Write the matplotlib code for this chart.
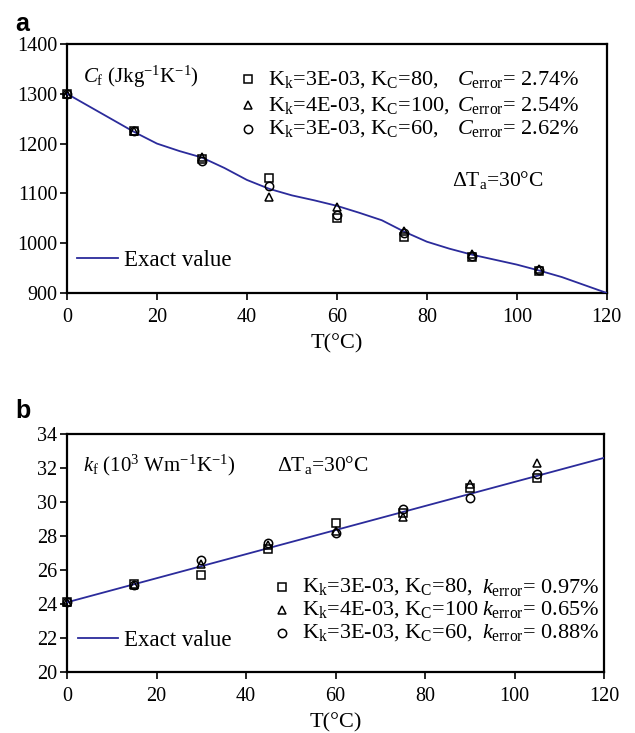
import matplotlib
matplotlib.use("Agg")
import matplotlib.pyplot as plt

plt.rcParams['font.family'] = ['Liberation Serif', 'DejaVu Serif']
plt.rcParams['mathtext.fontset'] = 'custom'
plt.rcParams['mathtext.rm'] = 'Liberation Serif'
plt.rcParams['mathtext.it'] = 'Liberation Serif:italic'
plt.rcParams['mathtext.bf'] = 'Liberation Serif:bold'

# ---- panel a: specific heat C_f ----
t_exact_c = [0, 15, 20, 25, 30, 35, 40, 45, 50, 55, 60, 65, 70, 75, 80, 85, 90, 95, 100, 105, 110, 115, 120]
c_exact = [1300, 1223, 1200, 1185, 1172, 1151, 1127, 1109, 1096, 1086, 1075, 1061, 1046, 1023, 1003, 989, 977, 967, 957, 945, 932, 916, 900]

t_pts = [0, 15, 30, 45, 60, 75, 90, 105]
c_sq = [1300, 1226, 1170, 1130, 1050, 1012, 972, 945]
c_tri = [1300, 1225, 1174, 1093, 1073, 1025, 978, 949]
c_circ = [1300, 1225, 1165, 1115, 1057, 1021, 975, 947]

c_labels = ["K$_\\mathrm{k}$=3E-03, K$_\\mathrm{C}$=80,",
            "K$_\\mathrm{k}$=4E-03, K$_\\mathrm{C}$=100,",
            "K$_\\mathrm{k}$=3E-03, K$_\\mathrm{C}$=60,"]
c_errors = ["$C_\\mathrm{error}$= 2.74%", "$C_\\mathrm{error}$= 2.54%", "$C_\\mathrm{error}$= 2.62%"]

# ---- panel b: conductivity k_f ----
t_exact_k = [0, 120]
k_exact = [24.1, 32.6]

k_sq = [24.1, 25.2, 25.7, 27.25, 28.75, 29.35, 30.8, 31.4]
k_tri = [24.1, 25.1, 26.35, 27.45, 28.3, 29.1, 31.05, 32.3]
k_circ = [24.1, 25.1, 26.6, 27.57, 28.15, 29.6, 30.25, 31.65]

k_labels = ["K$_\\mathrm{k}$=3E-03, K$_\\mathrm{C}$=80,",
            "K$_\\mathrm{k}$=4E-03, K$_\\mathrm{C}$=100",
            "K$_\\mathrm{k}$=3E-03, K$_\\mathrm{C}$=60,"]
k_errors = ["$k_\\mathrm{error}$= 0.97%", "$k_\\mathrm{error}$= 0.65%", "$k_\\mathrm{error}$= 0.88%"]

x_ticks = [0, 20, 40, 60, 80, 100, 120]

LINE = '#2b2b9b'
FS_TICK = 14.5
FS_TXT = 16
marker_kw = dict(linestyle='none', markerfacecolor='none', markeredgecolor='black',
                 markeredgewidth=1.1, markersize=6, clip_on=False, zorder=4)
markers = ['s', '^', 'o']

fig = plt.figure(figsize=(6.35, 7.33), dpi=100)
ax_a = fig.add_axes([0.1055, 0.6003, 0.850, 0.3397])
ax_b = fig.add_axes([0.1055, 0.0832, 0.846, 0.3247])


def style_axes(ax, ylim, yticks):
    ax.set_xlim(0, 120)
    ax.set_ylim(*ylim)
    ax.set_xticks(x_ticks)
    ax.set_yticks(yticks)
    for s in ax.spines.values():
        s.set_linewidth(1.6)
    ax.tick_params(direction='out', length=5, width=1.2, labelsize=FS_TICK, top=False, right=False)
    ax.tick_params(axis='x', pad=6)
    ax.tick_params(axis='y', pad=2)
    ax.set_xlabel("T(°C)", fontsize=FS_TXT, labelpad=5)


# panel a
ax_a.plot(t_exact_c, c_exact, color=LINE, lw=1.3, zorder=3)
for m, vals in zip(markers, [c_sq, c_tri, c_circ]):
    ax_a.plot(t_pts, vals, marker=m, **marker_kw)
style_axes(ax_a, (900, 1400), range(900, 1401, 100))

ax_a.text(0.03, 0.867, "$C_\\mathrm{f}$ (Jkg$^{\\mathrm{-1}}$K$^{\\mathrm{-1}}$)", transform=ax_a.transAxes,
          fontsize=15, va='center', ha='left')
rows_a = [0.859, 0.753, 0.659]
for m, y, lab, err in zip(markers, rows_a, c_labels, c_errors):
    ax_a.plot([0.335], [y], marker=m, transform=ax_a.transAxes, **marker_kw)
    ax_a.text(0.372, y, lab, transform=ax_a.transAxes, fontsize=FS_TXT, va='center', ha='left')
    ax_a.text(0.722, y, err, transform=ax_a.transAxes, fontsize=FS_TXT, va='center', ha='left')
ax_a.text(0.713, 0.454, "ΔT$_\\mathrm{a}$=30°C", transform=ax_a.transAxes, fontsize=15.5, va='center', ha='left')
ax_a.plot([0.0185, 0.094], [0.14, 0.14], color=LINE, lw=1.3, transform=ax_a.transAxes)
ax_a.text(0.106, 0.13, "Exact value", transform=ax_a.transAxes, fontsize=16.5, va='center', ha='left')

# panel b
ax_b.plot(t_exact_k, k_exact, color=LINE, lw=1.3, zorder=3)
for m, vals in zip(markers, [k_sq, k_tri, k_circ]):
    ax_b.plot(t_pts, vals, marker=m, **marker_kw)
style_axes(ax_b, (20, 34), range(20, 35, 2))

ax_b.text(0.03, 0.87, "$k_\\mathrm{f}$ (10$^{\\mathrm{3}}$ Wm$^{\\mathrm{-1}}$K$^{\\mathrm{-1}}$)", transform=ax_b.transAxes,
          fontsize=15, va='center', ha='left')
ax_b.text(0.391, 0.87, "ΔT$_\\mathrm{a}$=30°C", transform=ax_b.transAxes, fontsize=15.5, va='center', ha='left')
rows_b = [0.357, 0.261, 0.164]
for m, y, lab, err in zip(markers, rows_b, k_labels, k_errors):
    ax_b.plot([0.40], [y], marker=m, transform=ax_b.transAxes, **marker_kw)
    ax_b.text(0.438, y, lab, transform=ax_b.transAxes, fontsize=FS_TXT, va='center', ha='left')
    ax_b.text(0.773, y, err, transform=ax_b.transAxes, fontsize=FS_TXT, va='center', ha='left')
ax_b.plot([0.02, 0.095], [0.143, 0.143], color=LINE, lw=1.3, transform=ax_b.transAxes)
ax_b.text(0.106, 0.133, "Exact value", transform=ax_b.transAxes, fontsize=16.5, va='center', ha='left')

# panel letters
fig.text(15 / 635, 1 - 24 / 733, "a", fontsize=18, fontweight='bold', family='Liberation Sans', va='center', ha='left')
fig.text(15 / 635, 1 - 411 / 733, "b", fontsize=18, fontweight='bold', family='Liberation Sans', va='center', ha='left')

fig.savefig("out.png", dpi=100)
